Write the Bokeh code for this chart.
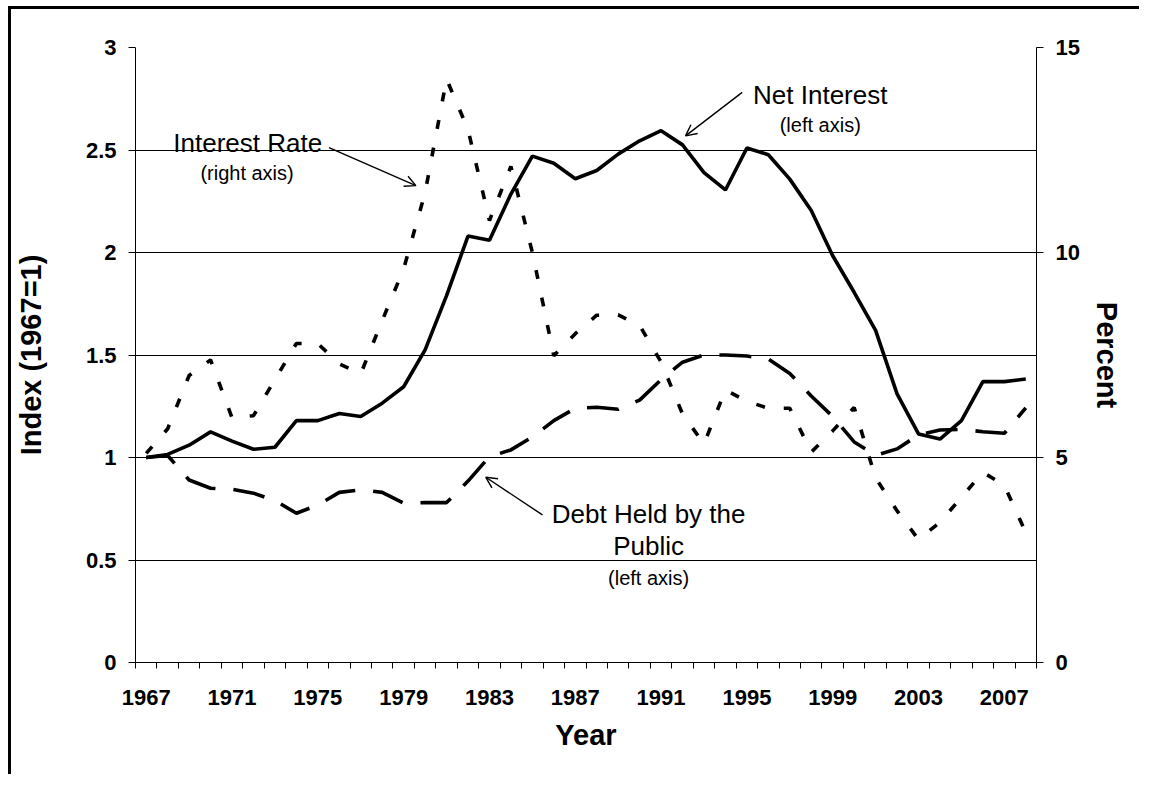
from bokeh.plotting import figure
from bokeh.models import Range1d, LinearAxis, FixedTicker, Arrow, OpenHead, Label, NumeralTickFormatter
from bokeh.embed import file_html
from bokeh.resources import INLINE

years = list(range(1967, 2009))
net_interest = [1.00, 1.015, 1.06, 1.125, 1.08, 1.04, 1.05, 1.18, 1.18, 1.215,
                1.20, 1.265, 1.345, 1.525, 1.79, 2.08, 2.06, 2.285, 2.47, 2.435,
                2.36, 2.40, 2.48, 2.545, 2.594, 2.525, 2.39, 2.305, 2.51, 2.477,
                2.358, 2.205, 1.984, 1.806, 1.62, 1.31, 1.115, 1.09, 1.18, 1.37,
                1.37, 1.383]
debt_public = [1.00, 1.01, 0.89, 0.85, 0.845, 0.826, 0.79, 0.728, 0.768, 0.83,
               0.842, 0.83, 0.777, 0.78, 0.78, 0.885, 1.004, 1.037, 1.10, 1.18,
               1.24, 1.245, 1.235, 1.28, 1.38, 1.465, 1.50, 1.50, 1.495, 1.48,
               1.41, 1.30, 1.20, 1.076, 1.01, 1.042, 1.11, 1.134, 1.137, 1.126,
               1.118, 1.242]
interest_rate = [5.1, 5.7, 7.0, 7.38, 5.97, 6.02, 6.9, 7.78, 7.78, 7.28,
                 7.04, 8.34, 9.6, 11.46, 14.23, 13.0, 10.78, 12.1, 10.0, 7.48,
                 8.02, 8.47, 8.48, 8.22, 7.33, 6.06, 5.33, 6.65, 6.37, 6.2,
                 6.2, 5.13, 5.65, 6.22, 4.5, 3.7, 3.0, 3.42, 4.03, 4.64,
                 4.32, 3.17]
left_ticks = [0, 0.5, 1, 1.5, 2, 2.5, 3]
right_ticks = [0, 5, 10, 15]
year_labels = [1967, 1971, 1975, 1979, 1983, 1987, 1991, 1995, 1999, 2003, 2007]

FONT = "Liberation Sans"

p = figure(width=1131, height=768,
           x_range=Range1d(years[0] - 0.5, years[-1] + 0.5),
           y_range=Range1d(0, 3),
           output_backend="svg", toolbar_location=None,
           min_border_left=123, min_border_right=106,
           min_border_top=38, min_border_bottom=115)
p.styles = {"border-left": "3px solid black", "border-top": "3px solid black",
            "margin-left": "8px", "margin-top": "6px"}
p.outline_line_color = None
p.background_fill_color = "white"
p.border_fill_color = "white"
p.extra_y_ranges = {"pct": Range1d(0, 15)}

# grid
p.xgrid.visible = False
p.ygrid.ticker = FixedTicker(ticks=left_ticks)
p.ygrid.grid_line_color = "black"
p.ygrid.grid_line_width = 1


def style_axis(ax, label_standoff, tick_standoff, tick_out):
    ax.axis_label_text_font = FONT
    ax.axis_label_text_font_style = "bold"
    ax.axis_label_text_font_size = "29px"
    ax.axis_label_text_color = "black"
    ax.axis_label_standoff = label_standoff
    ax.major_label_text_font = FONT
    ax.major_label_text_font_style = "bold"
    ax.major_label_text_font_size = "22px"
    ax.major_label_text_color = "black"
    ax.major_label_standoff = tick_standoff
    ax.major_tick_out = tick_out
    ax.major_tick_in = 0
    ax.minor_tick_out = 0
    ax.minor_tick_in = 0
    ax.axis_line_color = "black"
    ax.major_tick_line_color = "black"


# left axis
ya = p.yaxis[0]
ya.ticker = FixedTicker(ticks=left_ticks)
ya.formatter = NumeralTickFormatter(format="0.[0]")
ya.axis_label = "Index (1967=1)"
style_axis(ya, 36, 12, 7)

# bottom axis
xa = p.xaxis[0]
xa.ticker = FixedTicker(ticks=year_labels,
                        minor_ticks=[y - 0.5 for y in years] + [years[-1] + 0.5])
xa.axis_label = "Year"
style_axis(xa, 11, 21, 0)
xa.minor_tick_out = 6
xa.minor_tick_line_color = "black"

# right axis
ra = LinearAxis(y_range_name="pct", ticker=FixedTicker(ticks=right_ticks), axis_label="Percent")
style_axis(ra, 8, 12, 7)
p.add_layout(ra, "right")

# series
p.line(years, net_interest, line_color="black", line_width=3.6)
p.line(years, debt_public, line_color="black", line_width=3.6, line_dash="32 18")
p.line(years, interest_rate, line_color="black", line_width=3.6, line_dash="9 19",
       y_range_name="pct")

# annotations
def lab(x, y, t, size):
    p.add_layout(Label(x=x, y=y, text=t, text_font=FONT, text_font_size=size,
                       text_align="center", text_baseline="middle", text_color="black"))

lab(1971.73, 2.533, "Interest Rate", "26px")
lab(1971.70, 2.389, "(right axis)", "20px")
lab(1998.42, 2.767, "Net Interest", "26px")
lab(1998.42, 2.623, "(left axis)", "20px")
lab(1990.42, 0.722, "Debt Held by the", "26px")
lab(1990.42, 0.566, "Public", "26px")
lab(1990.42, 0.414, "(left axis)", "20px")

for xs, ys, xe, ye in [(1975.52, 2.512, 1979.57, 2.326),
                       (1994.78, 2.781, 1992.14, 2.569),
                       (1985.47, 0.720, 1982.83, 0.9035)]:
    p.add_layout(Arrow(end=OpenHead(size=11, line_width=1.4, line_color="black"),
                       x_start=xs, y_start=ys, x_end=xe, y_end=ye,
                       line_width=1.4, line_color="black"))

open("out.html", "w").write(file_html(p, INLINE))
